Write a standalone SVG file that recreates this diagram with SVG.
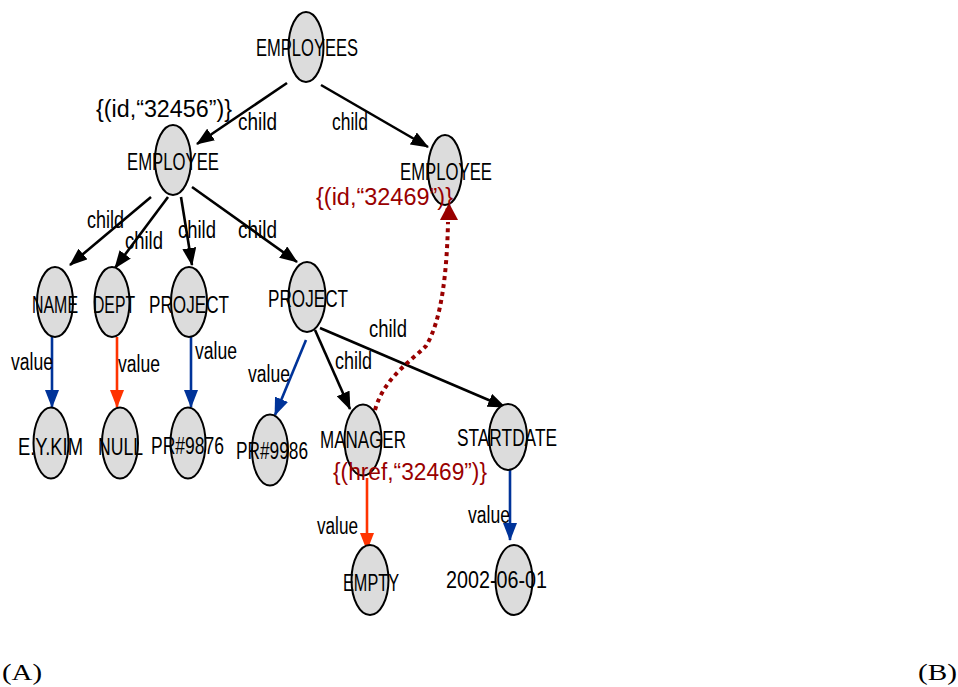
<svg xmlns="http://www.w3.org/2000/svg" width="958" height="687" viewBox="0 0 958 687">
<style>
.n{fill:#dcdcdc;stroke:#000;stroke-width:2}
.t{font-family:"Liberation Sans",Arial,sans-serif;font-size:23px;fill:#000}
.r{fill:#990000}
.e{fill:none;stroke-width:2.6}
.k{stroke:#000}
.b{stroke:#003399}
.o{stroke:#ff3300}
.d{stroke:#990000;stroke-width:4;stroke-dasharray:4 4;fill:none}
.cap{font-family:"Liberation Serif","Times New Roman",serif;font-size:23px;fill:#000}
</style>
<defs>
<marker id="ak" viewBox="0 0 18 14" refX="17" refY="7" markerWidth="18" markerHeight="14" markerUnits="userSpaceOnUse" orient="auto"><path d="M0,0L18,7L0,14z" fill="#000"/></marker>
<marker id="ab" viewBox="0 0 18 14" refX="17" refY="7" markerWidth="18" markerHeight="14" markerUnits="userSpaceOnUse" orient="auto"><path d="M0,0L18,7L0,14z" fill="#003399"/></marker>
<marker id="ao" viewBox="0 0 18 14" refX="17" refY="7" markerWidth="18" markerHeight="14" markerUnits="userSpaceOnUse" orient="auto"><path d="M0,0L18,7L0,14z" fill="#ff3300"/></marker>
</defs>
<g id="connectors">
<line class="e k" x1="287" y1="83" x2="197" y2="144" marker-end="url(#ak)"/>
<line class="e k" x1="321" y1="85" x2="428" y2="147" marker-end="url(#ak)"/>
<line class="e k" x1="151" y1="197" x2="70" y2="265" marker-end="url(#ak)"/>
<line class="e k" x1="168" y1="197" x2="115" y2="268" marker-end="url(#ak)"/>
<line class="e k" x1="181" y1="197" x2="192" y2="265" marker-end="url(#ak)"/>
<line class="e k" x1="192" y1="187" x2="297" y2="262" marker-end="url(#ak)"/>
<line class="e b" x1="52" y1="337" x2="52" y2="407" marker-end="url(#ab)"/>
<line class="e o" x1="117" y1="337" x2="117" y2="407" marker-end="url(#ao)"/>
<line class="e b" x1="191" y1="337" x2="191" y2="407" marker-end="url(#ab)"/>
<line class="e b" x1="306" y1="340" x2="275" y2="415" marker-end="url(#ab)"/>
<line class="e k" x1="315" y1="330" x2="350" y2="409" marker-end="url(#ak)"/>
<line class="e k" x1="320" y1="328" x2="505" y2="407" marker-end="url(#ak)"/>
<line class="e o" x1="367" y1="478" x2="367" y2="550" marker-end="url(#ao)"/>
<line class="e b" x1="510" y1="468" x2="510" y2="540" marker-end="url(#ab)"/>
<path class="d" d="M375,410C384,378 410,362 426,346C442,320 447,270 448,222"/>
<path d="M440,220L449,203L458,220z" fill="#990000"/>
</g>
<g id="n-employees"><ellipse class="n" cx="306" cy="47" rx="17.5" ry="35"/><text class="t" x="256" y="56" textLength="102" lengthAdjust="spacingAndGlyphs">EMPLOYEES</text></g>
<g id="n-employee1"><ellipse class="n" cx="173" cy="160" rx="18" ry="35"/><text class="t" x="127" y="170" textLength="92" lengthAdjust="spacingAndGlyphs">EMPLOYEE</text><text class="t" x="96" y="117" textLength="136" lengthAdjust="spacingAndGlyphs">{(id,“32456”)}</text></g>
<g id="n-employee2"><ellipse class="n" cx="445" cy="170" rx="17" ry="35"/><text class="t" x="400" y="180" textLength="92" lengthAdjust="spacingAndGlyphs">EMPLOYEE</text><text class="t r" x="316" y="205" textLength="137" lengthAdjust="spacingAndGlyphs">{(id,“32469”)}</text></g>
<g id="n-name"><ellipse class="n" cx="55" cy="302" rx="18" ry="35"/><text class="t" x="32" y="313" textLength="46" lengthAdjust="spacingAndGlyphs">NAME</text></g>
<g id="n-dept"><ellipse class="n" cx="112" cy="302" rx="17.5" ry="35"/><text class="t" x="93" y="313" textLength="42" lengthAdjust="spacingAndGlyphs">DEPT</text></g>
<g id="n-project1"><ellipse class="n" cx="189" cy="302" rx="18" ry="35"/><text class="t" x="149" y="313" textLength="80" lengthAdjust="spacingAndGlyphs">PROJECT</text></g>
<g id="n-project2"><ellipse class="n" cx="307" cy="297" rx="18.5" ry="35"/><text class="t" x="268" y="307" textLength="80" lengthAdjust="spacingAndGlyphs">PROJECT</text></g>
<g id="n-eykim"><ellipse class="n" cx="51" cy="443" rx="17.5" ry="35.5"/><text class="t" x="18" y="455" textLength="65" lengthAdjust="spacingAndGlyphs">E.Y.KIM</text></g>
<g id="n-null"><ellipse class="n" cx="120" cy="443" rx="18" ry="35.5"/><text class="t" x="98" y="455" textLength="45" lengthAdjust="spacingAndGlyphs">NULL</text></g>
<g id="n-pr9876"><ellipse class="n" cx="188" cy="443" rx="17.5" ry="35.5"/><text class="t" x="151" y="454" textLength="73" lengthAdjust="spacingAndGlyphs">PR#9876</text></g>
<g id="n-pr9986"><ellipse class="n" cx="270" cy="450" rx="18" ry="35.5"/><text class="t" x="236" y="459" textLength="72" lengthAdjust="spacingAndGlyphs">PR#9986</text></g>
<g id="n-manager"><ellipse class="n" cx="363" cy="440" rx="18.5" ry="35.5"/><text class="t" x="320" y="448" textLength="86" lengthAdjust="spacingAndGlyphs">MANAGER</text><text class="t r" x="333" y="480" textLength="154" lengthAdjust="spacingAndGlyphs">{(href,“32469”)}</text></g>
<g id="n-startdate"><ellipse class="n" cx="508" cy="437" rx="19" ry="33"/><text class="t" x="457" y="446" textLength="100" lengthAdjust="spacingAndGlyphs">STARTDATE</text></g>
<g id="n-empty"><ellipse class="n" cx="370" cy="580" rx="18.5" ry="35"/><text class="t" x="343" y="591" textLength="56" lengthAdjust="spacingAndGlyphs">EMPTY</text></g>
<g id="n-date"><ellipse class="n" cx="514" cy="580" rx="18.5" ry="35"/><text class="t" x="446" y="588" textLength="101" lengthAdjust="spacingAndGlyphs">2002-06-01</text></g>
<g id="labels">
<text class="t" x="238" y="130" textLength="39" lengthAdjust="spacingAndGlyphs">child</text>
<text class="t" x="332" y="130" textLength="36" lengthAdjust="spacingAndGlyphs">child</text>
<text class="t" x="87" y="228" textLength="37" lengthAdjust="spacingAndGlyphs">child</text>
<text class="t" x="125" y="249" textLength="38" lengthAdjust="spacingAndGlyphs">child</text>
<text class="t" x="178" y="238" textLength="38" lengthAdjust="spacingAndGlyphs">child</text>
<text class="t" x="238" y="238" textLength="39" lengthAdjust="spacingAndGlyphs">child</text>
<text class="t" x="369" y="337" textLength="38" lengthAdjust="spacingAndGlyphs">child</text>
<text class="t" x="335" y="369" textLength="37" lengthAdjust="spacingAndGlyphs">child</text>
<text class="t" x="11" y="370" textLength="42" lengthAdjust="spacingAndGlyphs">value</text>
<text class="t" x="118" y="372" textLength="42" lengthAdjust="spacingAndGlyphs">value</text>
<text class="t" x="195" y="359" textLength="42" lengthAdjust="spacingAndGlyphs">value</text>
<text class="t" x="248" y="382" textLength="42" lengthAdjust="spacingAndGlyphs">value</text>
<text class="t" x="317" y="534" textLength="41" lengthAdjust="spacingAndGlyphs">value</text>
<text class="t" x="468" y="523" textLength="42" lengthAdjust="spacingAndGlyphs">value</text>
</g>
<text class="cap" x="2" y="680" textLength="40" lengthAdjust="spacingAndGlyphs">(A)</text>
<text class="cap" x="918" y="680" textLength="39" lengthAdjust="spacingAndGlyphs">(B)</text>
</svg>
